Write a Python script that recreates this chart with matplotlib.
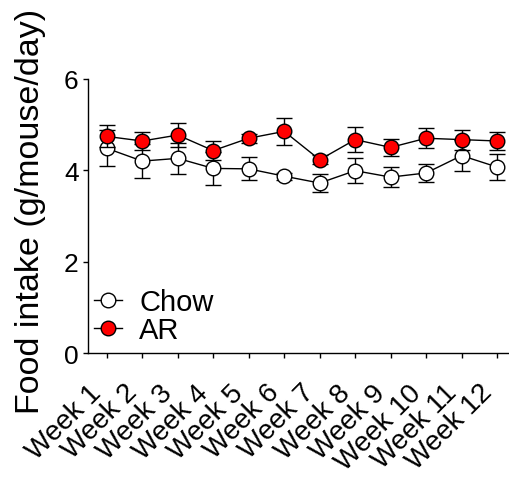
import matplotlib.pyplot as plt
import numpy as np

plt.rcParams['font.family'] = ['Liberation Sans', 'DejaVu Sans']

weeks = ["Week 1", "Week 2", "Week 3", "Week 4", "Week 5", "Week 6",
         "Week 7", "Week 8", "Week 9", "Week 10", "Week 11", "Week 12"]

chow_mean = [4.48, 4.20, 4.26, 4.04, 4.03, 3.87, 3.72, 3.99, 3.85, 3.94, 4.32, 4.07]
chow_err = [0.39, 0.37, 0.34, 0.36, 0.25, 0.08, 0.20, 0.27, 0.21, 0.20, 0.34, 0.28]

ar_mean = [4.74, 4.64, 4.77, 4.43, 4.70, 4.85, 4.23, 4.67, 4.50, 4.70, 4.67, 4.64]
ar_err = [0.24, 0.19, 0.27, 0.20, 0.10, 0.30, 0.10, 0.27, 0.19, 0.22, 0.22, 0.19]

x = np.arange(1, len(weeks) + 1)

fig = plt.figure(figsize=(5.10, 4.81), dpi=100)
ax = fig.add_axes([0.1725, 0.264, 0.83, 0.57])

ax.errorbar(x, chow_mean, yerr=chow_err, fmt='-o', color='black', mfc='white',
            mec='black', ms=10.5, mew=1, lw=1, elinewidth=1, capsize=6, capthick=1,
            label='Chow', zorder=2)
ax.errorbar(x, ar_mean, yerr=ar_err, fmt='-o', color='black', mfc='#ff0000',
            mec='black', ms=10.5, mew=1, lw=1, elinewidth=1, capsize=6, capthick=1,
            label='AR', zorder=3)

ax.set_xlim(0.47, 12.4)
ax.set_ylim(0, 6)
ax.set_yticks([0, 2, 4, 6])
ax.set_xticks(x)
ax.set_xticklabels(weeks, rotation=45, ha='right', rotation_mode='default')

for s in ['top', 'right']:
    ax.spines[s].set_visible(False)
for s in ['left', 'bottom']:
    ax.spines[s].set_linewidth(1)
ax.tick_params(direction='out', length=3.8, width=1, pad=3)
ax.tick_params(axis='y', labelsize=19)
ax.tick_params(axis='x', labelsize=20, pad=15)

ax.set_ylabel("Food intake (g/mouse/day)", fontsize=24.5)
ax.yaxis.set_label_coords(-0.1, 0.52)

handles, labels = ax.get_legend_handles_labels()
handles = [h[0] for h in handles]
ax.legend(handles, labels, loc='lower left', bbox_to_anchor=(-0.027, -0.032),
          frameon=False, fontsize=21, handlelength=0.95, handletextpad=0.6,
          labelspacing=0.0, borderaxespad=0.2)

fig.savefig("out.png", dpi=100)
